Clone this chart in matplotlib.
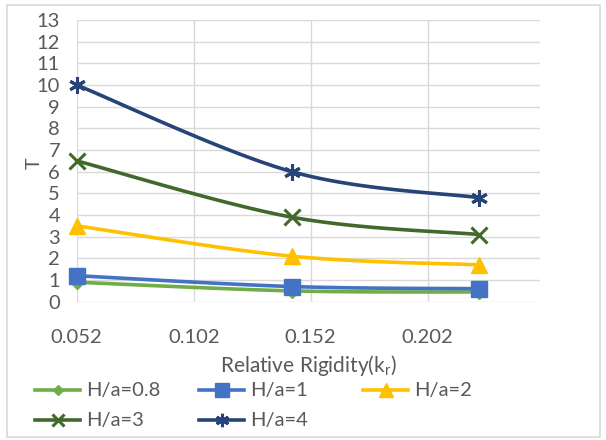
import numpy as np
import matplotlib
matplotlib.use("Agg")
import matplotlib.pyplot as plt
from matplotlib.lines import Line2D

plt.rcParams['font.family'] = ['Lato', 'DejaVu Sans']

# data
kr = [0.052, 0.144, 0.224]
labels = ['H/a=0.8', 'H/a=1', 'H/a=2', 'H/a=3', 'H/a=4']
t_08 = [0.9, 0.5, 0.45]
t_1 = [1.2, 0.7, 0.6]
t_2 = [3.5, 2.1, 1.7]
t_3 = [6.5, 3.9, 3.1]
t_4 = [10.0, 6.0, 4.8]
series = [t_08, t_1, t_2, t_3, t_4]
x_ticks = [0.052, 0.102, 0.152, 0.202]

colors = ['#70AD47', '#4472C4', '#FFC000', '#43682B', '#264478']
markers = ['D', 's', '^', 'x', (6, 2, 0)]
msizes = [7, 12, 12, 11, 12]
mews = [1, 1, 1, 2.2, 2.2]
gray = '#595959'


def smooth(xs, ys, n=40):
    # catmull-rom style bezier through the points (like a spreadsheet "smoothed line")
    p = np.column_stack([xs, ys]).astype(float)
    pts = np.vstack([p[0], p, p[-1]])
    out = []
    for i in range(1, len(pts) - 2):
        p0, p1, p2, p3 = pts[i - 1], pts[i], pts[i + 1], pts[i + 2]
        c1 = p1 + (p2 - p0) / 6
        c2 = p2 - (p3 - p1) / 6
        t = np.linspace(0, 1, n)[:, None]
        seg = ((1 - t) ** 3) * p1 + 3 * ((1 - t) ** 2) * t * c1 + 3 * (1 - t) * t ** 2 * c2 + t ** 3 * p2
        out.append(seg)
    out = np.vstack(out)
    return out[:, 0], out[:, 1]


fig = plt.figure(figsize=(6.06, 4.40), dpi=100)
ax = fig.add_axes([0.1266, 0.3143, 0.7644, 0.6402])

for i, ys in enumerate(series):
    sx, sy = smooth(kr, ys)
    ax.plot(sx, sy, color=colors[i], lw=2.6, zorder=3 + i, solid_capstyle='round')
    ax.plot(kr, ys, ls='none', marker=markers[i], ms=msizes[i], color=colors[i],
            mec=colors[i], mew=mews[i], zorder=3 + i, clip_on=False)

ax.set_xlim(0.052, 0.25)
ax.set_ylim(0, 13)
ax.set_xticks(x_ticks)
ax.set_xticklabels([f'{v:.3f}' for v in x_ticks])
ax.set_yticks(range(0, 14))
ax.grid(True, color='#D9D9D9', lw=1)
ax.set_axisbelow(True)
for s in ax.spines.values():
    s.set_visible(False)
ax.tick_params(length=0, labelsize=14.5, colors=gray)
ax.tick_params(axis='y', pad=12)
ax.tick_params(axis='x', pad=20)
ax.set_xlabel('Relative Rigidity(k$_\\mathregular{r}$)', fontsize=15, color=gray, labelpad=5)
ax.set_ylabel('T', fontsize=14, color=gray, rotation=90, va='center', ha='center')
ax.yaxis.set_label_coords(-0.091, 0.49)

# legend entries laid out in a 3 + 2 grid
cols_x = [35, 199, 363]
rows_y = [390, 420]
W, H = 606.0, 440.0
for i, lab in enumerate(labels):
    cx = cols_x[i % 3]
    cy = rows_y[i // 3]
    fig.add_artist(Line2D([cx / W, (cx + 45) / W], [1 - cy / H, 1 - cy / H],
                          color=colors[i], lw=2.6, transform=fig.transFigure))
    fig.add_artist(Line2D([(cx + 22.5) / W], [1 - cy / H], ls='none', marker=markers[i],
                          ms=msizes[i] * 0.8, color=colors[i], mew=mews[i],
                          transform=fig.transFigure))
    fig.text((cx + 51) / W, 1 - cy / H, lab, fontsize=14.5, color=gray, va='center', ha='left')

# outer frame
fig.add_artist(plt.Rectangle((7 / W, 3 / H), 593 / W, 432 / H, fill=False,
                             ec='#D9D9D9', lw=1.2, transform=fig.transFigure))

fig.savefig('out.png', dpi=100)
